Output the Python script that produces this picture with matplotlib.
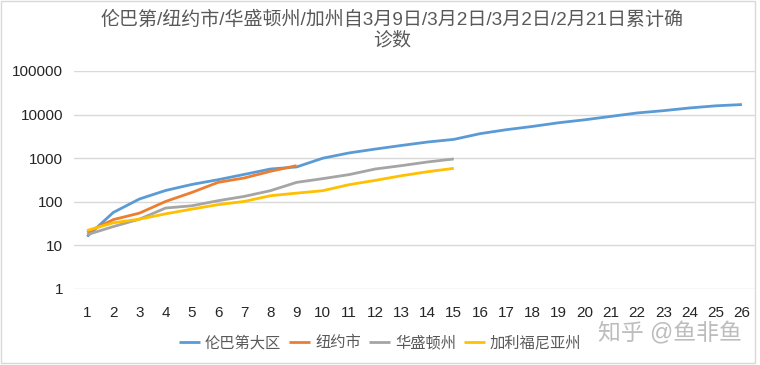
import matplotlib
matplotlib.use("Agg")
import matplotlib.pyplot as plt
from matplotlib.patches import Rectangle

plt.rcParams['font.family'] = ['Liberation Sans', 'Noto Sans CJK SC', 'DejaVu Sans']

days = list(range(1, 27))
lombardy = [16, 57, 116, 182, 250, 321, 425, 565, 630, 1000, 1320, 1620, 1960, 2350, 2700,
            3650, 4500, 5350, 6500, 7600, 9100, 10900, 12300, 14200, 15900, 17000]
nyc = [20, 39, 55, 102, 164, 279, 352, 500, 675]
washington = [17.6, 27, 40, 72, 81, 106, 133, 180, 279, 340, 420, 565, 675, 820, 960]
california = [22, 33, 40, 53, 68, 86, 102, 138, 158, 180, 247, 310, 396, 490, 585]

names = ['伦巴第大区', '纽约市', '华盛顿州', '加利福尼亚州']
colors = ['#5B9BD5', '#ED7D31', '#A5A5A5', '#FFC000']
series = [lombardy, nyc, washington, california]
yticks = [1, 10, 100, 1000, 10000, 100000]
ytick_labels = ['1', '10', '100', '1000', '10000', '100000']
title = '伦巴第/纽约市/华盛顿州/加州自3月9日/3月2日/3月2日/2月21日累计确\n诊数'

fig = plt.figure(figsize=(7.6, 3.65), dpi=100)
ax = fig.add_axes([74/760, 1-289/365, 681/760, 218/365])

for vals, c, n in zip(series, colors, names):
    ax.plot(days[:len(vals)], vals, color=c, lw=2.0, label=n, solid_capstyle='butt')

ax.set_yscale('log')
ax.set_ylim(1, 100000)
ax.set_xlim(0.5, 26.5)
ax.set_yticks(yticks)
ax.set_yticklabels(ytick_labels)
ax.minorticks_off()
ax.set_xticks(days)
ax.set_xticklabels([str(d) for d in days])
ax.tick_params(length=0, labelsize=11, colors='#262626')
ax.tick_params(axis='y', pad=8)
ax.tick_params(axis='x', pad=12)
for s in ax.spines.values():
    s.set_visible(False)
ax.grid(axis='y', color='#D9D9D9', lw=1)
ax.set_axisbelow(True)

fig.text(392/760, 1-11/365, title, ha='center', va='top', fontsize=13.7, color='#595959',
         linespacing=1.2)

leg = fig.legend(loc='center', bbox_to_anchor=(380/760, 1-343/365), ncol=4, frameon=False,
                 fontsize=11, handlelength=1.38, handletextpad=0.33, columnspacing=0.52,
                 borderpad=0, borderaxespad=0)
for t in leg.get_texts():
    t.set_color('#595959')

fig.text(670/760, 1-334/365, '知乎 @鱼非鱼', ha='center', va='center', fontsize=16.5,
         color='#BDBDBD')

fig.patches.append(Rectangle((1/760, 2/365), 754/760, 362/365, transform=fig.transFigure,
                             fill=False, edgecolor='#D9D9D9', lw=1))

fig.savefig('out.png', dpi=100)
